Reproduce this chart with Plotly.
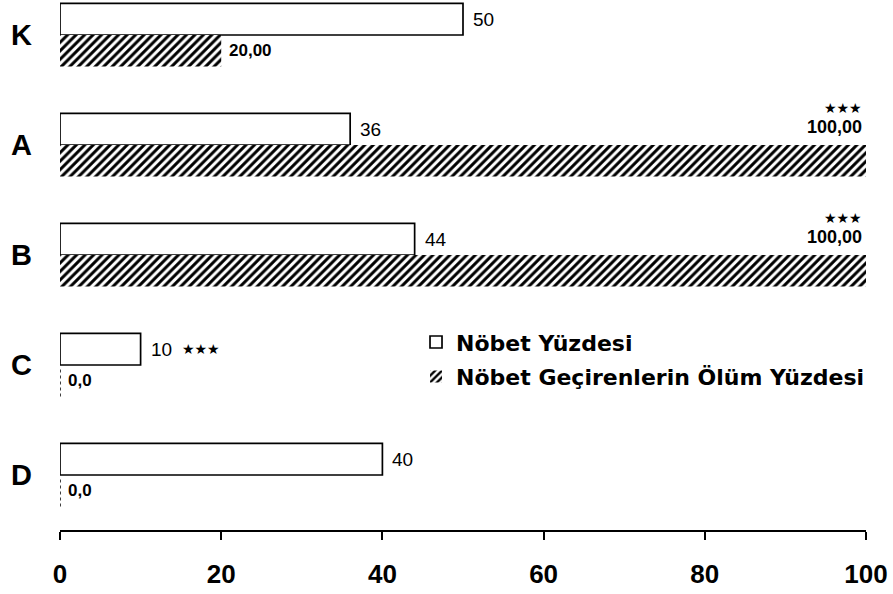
import plotly.graph_objects as go

categories = ["K", "A", "B", "C", "D"]
nobet = [50, 36, 44, 10, 40]
nobet_labels = ["50", "36", "44", "10", "40"]
nobet_stars = ["", "", "", "★★★", ""]
olum = [20, 100, 100, 0, 0]
olum_labels = ["20,00", "100,00", "100,00", "0,0", "0,0"]
olum_stars = ["", "★★★", "★★★", "", ""]
x_ticks = [0, 20, 40, 60, 80, 100]

FONT = "Liberation Sans"
BARGAP = 0.425
bar_w = (1 - BARGAP) / 2

fig = go.Figure()
fig.add_trace(go.Bar(
    y=categories, x=nobet, orientation="h", name="Nöbet Yüzdesi",
    marker=dict(color="white", line=dict(color="black", width=1.7)),
    legendgroup="a",
))
fig.add_trace(go.Bar(
    y=categories, x=olum, orientation="h", name="Nöbet Geçirenlerin Ölüm Yüzdesi",
    marker=dict(color="white", line=dict(color="black", width=0),
                pattern=dict(shape="/", fgcolor="black", bgcolor="white",
                             fgopacity=1, size=6, solidity=0.5)),
    legendgroup="b",
))

shapes = []
annotations = []
# white bar value labels
for i, (v, lab, st) in enumerate(zip(nobet, nobet_labels, nobet_stars)):
    annotations.append(dict(
        x=v, y=i - bar_w / 2, xref="x", yref="y", xanchor="left", yanchor="middle",
        text=lab, showarrow=False, xshift=8,
        font=dict(family=FONT, size=19, color="black"),
    ))
    if st:
        annotations.append(dict(
            x=v, y=i - bar_w / 2, xref="x", yref="y", xanchor="left", yanchor="middle",
            text=st, showarrow=False, xshift=39,
            font=dict(family="DejaVu Sans", size=14, color="black"),
        ))
# hatched bar value labels
for i, (v, lab, st) in enumerate(zip(olum, olum_labels, olum_stars)):
    if v == 0:
        shapes.append(dict(
            type="line", xref="x", yref="y", x0=v, x1=v, y0=i + 0.04, y1=i + bar_w,
            line=dict(color="black", width=1.5, dash="dot"),
        ))
    if v >= 100:
        annotations.append(dict(
            x=v, y=i, xref="x", yref="y", xanchor="right", yanchor="middle",
            text=lab, showarrow=False, xshift=-2, yshift=18,
            font=dict(family=FONT, size=18, color="black", weight="bold"),
        ))
        annotations.append(dict(
            x=v, y=i, xref="x", yref="y", xanchor="right", yanchor="middle",
            text=st, showarrow=False, xshift=-2, yshift=37,
            font=dict(family="DejaVu Sans", size=14, color="black"),
        ))
    else:
        annotations.append(dict(
            x=v, y=i + bar_w / 2, xref="x", yref="y", xanchor="left", yanchor="middle",
            text=lab, showarrow=False, xshift=6 if v > 0 else 6,
            font=dict(family=FONT, size=17, color="black", weight="bold"),
        ))

fig.update_layout(
    width=893, height=594,
    margin=dict(l=60, r=27, t=0, b=64, autoexpand=False),
    paper_bgcolor="white", plot_bgcolor="white",
    barmode="group", bargap=BARGAP, bargroupgap=0,
    annotations=annotations, shapes=shapes,
    showlegend=True,
    legend=dict(x=0.4417, y=0.394, xanchor="left", yanchor="top",
                font=dict(family="DejaVu Sans", size=22, color="black", weight="bold"),
                bgcolor="rgba(0,0,0,0)", tracegroupgap=3, traceorder="grouped",
                itemwidth=30),
    font=dict(family=FONT, color="black"),
)
fig.update_xaxes(
    range=[0, 100], tickvals=x_ticks, ticktext=[str(t) for t in x_ticks],
    showline=True, linecolor="black", linewidth=1.5,
    ticks="outside", ticklen=8, tickcolor="black", tickwidth=1.5,
    showgrid=False, zeroline=False, ticklabelstandoff=12, automargin=False,
    tickfont=dict(family=FONT, size=26, color="black", weight="bold"),
)
fig.update_yaxes(
    type="category", categoryorder="array", categoryarray=categories,
    range=[4.5, -0.318], showline=False, showgrid=False, zeroline=False,
    ticks="", ticklabelstandoff=27, automargin=False,
    tickfont=dict(family=FONT, size=29, color="black", weight="bold"),
)

fig.write_html("out.html", config={"displayModeBar": False},
               post_script="document.body.style.margin='0';document.body.style.padding='0';")
